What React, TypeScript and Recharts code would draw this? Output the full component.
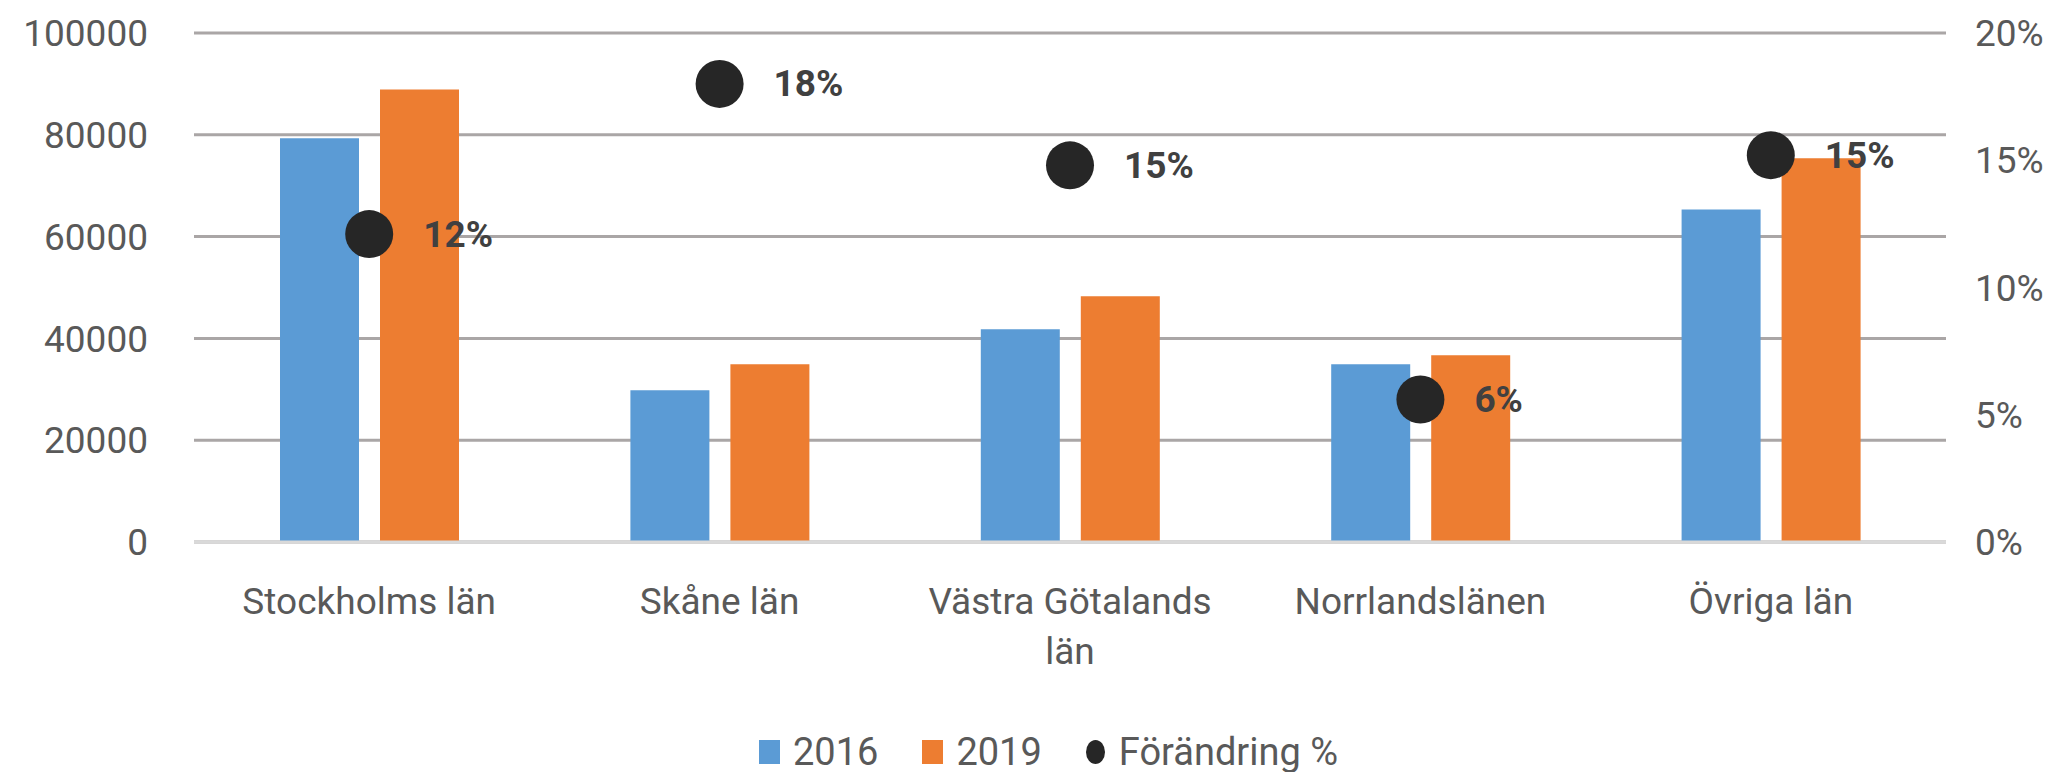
import { ComposedChart, Bar, Scatter, XAxis, YAxis, CartesianGrid, Legend } from "recharts"

const categories = ["Stockholms län", "Skåne län", "Västra Götalands län", "Norrlandslänen", "Övriga län"]
const values2016 = [79300, 29800, 41800, 34900, 65300]
const values2019 = [88900, 34900, 48300, 36700, 75400]
const changePct = [0.121, 0.18, 0.148, 0.056, 0.152]
const leftTicks = [0, 20000, 40000, 60000, 80000, 100000]
const rightTicks = [0, 0.05, 0.1, 0.15, 0.2]

const FONT = "Roboto"
const BLUE = "#5b9bd5"
const ORANGE = "#ed7d31"
const DOT = "#262626"

const data = categories.map((name, i) => ({
  name,
  y2016: values2016[i],
  y2019: values2019[i],
  change: changePct[i],
}))

const pct = (v: number) => `${Math.round(v * 100)}%`

// long labels break at the last space, like the original axis does
function wrapLabel(s: string) {
  if (s.length <= 16) return [s]
  const i = s.lastIndexOf(" ")
  return [s.slice(0, i), s.slice(i + 1)]
}

function CategoryTick({ x, y, payload }: any) {
  const lines = wrapLabel(String(payload.value))
  return (
    <text x={x} y={y} textAnchor="middle" fill="#595959" fontSize={37} fontFamily={FONT}>
      {lines.map((line, i) => (
        <tspan key={i} x={x} dy={i === 0 ? 27 : 50}>
          {line}
        </tspan>
      ))}
    </text>
  )
}

function ChangeDot({ cx, cy, payload }: any) {
  if (cx == null || cy == null) return null
  return (
    <g>
      <circle cx={cx} cy={cy} r={24} fill={DOT} />
      <text
        x={cx + 54}
        y={cy}
        dominantBaseline="central"
        fill="#404040"
        fontWeight="bold"
        fontSize={37}
        fontFamily={FONT}
      >
        {pct(payload.change)}
      </text>
    </g>
  )
}

function LegendContent() {
  const item = { display: "flex", alignItems: "center" }
  return (
    <div
      style={{
        height: 80,
        paddingTop: 40,
        boxSizing: "border-box",
        display: "flex",
        justifyContent: "center",
        alignItems: "center",
        paddingLeft: 28,
        fontFamily: FONT,
        fontSize: 38,
        color: "#595959",
        gap: 44,
      }}
    >
      <div style={item}>
        <span style={{ width: 21, height: 24, background: BLUE, marginRight: 13 }} />
        2016
      </div>
      <div style={item}>
        <span style={{ width: 21, height: 24, background: ORANGE, marginRight: 13 }} />
        2019
      </div>
      <div style={item}>
        <span style={{ width: 19, height: 24, borderRadius: "50%", background: DOT, marginRight: 14 }} />
        Förändring %
      </div>
    </div>
  )
}

export default function App() {
  return (
    <div style={{ position: "absolute", left: 0, top: 0, background: "#fff" }}>
      <ComposedChart width={2069} height={772} data={data} margin={{ top: 33, right: 0, left: 0, bottom: 0 }} barGap={21}>
        <CartesianGrid yAxisId="left" vertical={false} stroke="#aaa6a6" strokeWidth={3} />
        <XAxis
          dataKey="name"
          height={150}
          tickLine={false}
          tickSize={0}
          tickMargin={45}
          axisLine={{ stroke: "#d9d9d9", strokeWidth: 3 }}
          tick={<CategoryTick />}
          interval={0}
        />
        <YAxis
          yAxisId="left"
          width={194}
          domain={[0, 100000]}
          ticks={leftTicks}
          tickLine={false}
          axisLine={false}
          tickSize={0}
          tickMargin={46}
          tick={{ fill: "#595959", fontSize: 37, fontFamily: FONT }}
        />
        <YAxis
          yAxisId="right"
          orientation="right"
          width={123}
          domain={[0, 0.2]}
          ticks={rightTicks}
          tickFormatter={pct}
          tickLine={false}
          axisLine={false}
          tickSize={0}
          tickMargin={29}
          tick={{ fill: "#595959", fontSize: 37, fontFamily: FONT, textAnchor: "start" }}
        />
        <Bar yAxisId="left" dataKey="y2016" name="2016" fill={BLUE} barSize={79} isAnimationActive={false} />
        <Bar yAxisId="left" dataKey="y2019" name="2019" fill={ORANGE} barSize={79} isAnimationActive={false} />
        <Scatter yAxisId="right" dataKey="change" name="Förändring %" shape={ChangeDot} isAnimationActive={false} />
        <Legend verticalAlign="bottom" height={80} content={<LegendContent />} />
      </ComposedChart>
    </div>
  )
}
